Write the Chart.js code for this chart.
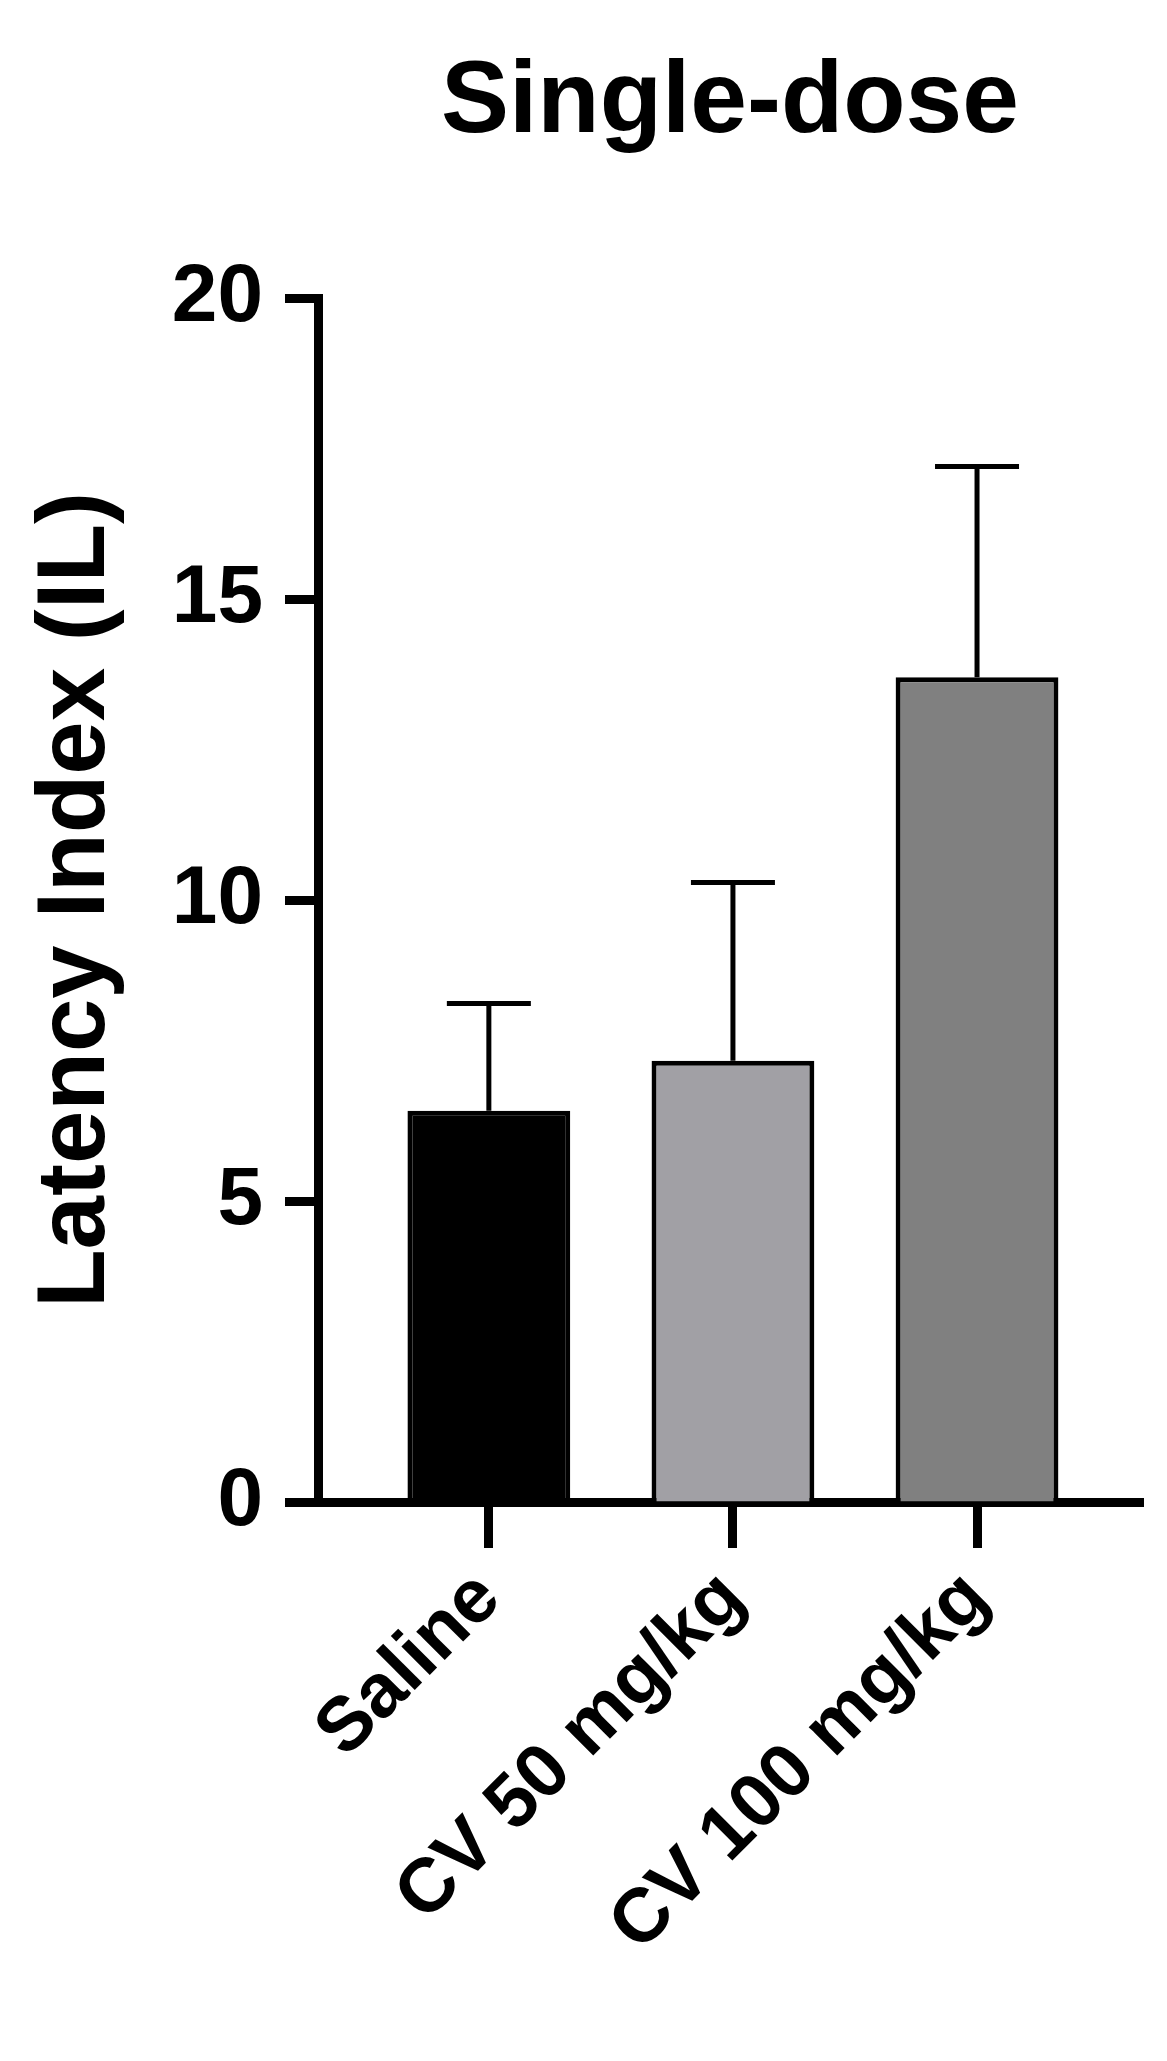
<!DOCTYPE html>
<html>
<head>
<meta charset="utf-8">
<script src="https://cdn.jsdelivr.net/npm/chart.js@4"></script>
<style>
  html, body { margin: 0; padding: 0; background: #fff; }
  #wrap { width: 1167px; height: 2061px; position: relative; }
</style>
</head>
<body>
<div id="wrap"><canvas id="chart"></canvas></div>
<script>
const groups = ['Saline', 'CV 50 mg/kg', 'CV 100 mg/kg'];
const means = [6.5, 7.33, 13.7];
const errorTops = [8.28, 10.29, 17.2];
const barColors = ['#000000', '#a1a0a5', '#808080'];
const yTicks = [0, 5, 10, 15, 20];

const FONT = '"Liberation Sans", Arial, sans-serif';

// upper error bars + title
const extras = {
    id: 'extras',
    afterDatasetsDraw(chart) {
        const ctx = chart.ctx;
        const x = chart.scales.x;
        const y = chart.scales.y;
        ctx.save();
        ctx.strokeStyle = '#000';
        ctx.lineWidth = 5;
        errorTops.forEach((top, i) => {
            const cx = x.getPixelForValue(i);
            const y0 = y.getPixelForValue(means[i]);
            const y1 = y.getPixelForValue(top);
            ctx.beginPath();
            ctx.moveTo(cx, y0);
            ctx.lineTo(cx, y1);
            ctx.moveTo(cx - 42, y1);
            ctx.lineTo(cx + 42, y1);
            ctx.stroke();
        });
        ctx.fillStyle = '#000';
        ctx.font = 'bold 102px ' + FONT;
        ctx.textAlign = 'center';
        ctx.textBaseline = 'middle';
        ctx.fillText('Single-dose', 730, 104);
        ctx.restore();
    }
};

new Chart(document.getElementById('chart'), {
    type: 'bar',
    data: {
        datasets: [{
            data: means.map((v, i) => ({ x: i, y: v })),
            backgroundColor: barColors,
            borderColor: '#000',
            borderWidth: 5,
            categoryPercentage: 1,
            barPercentage: 0.667
        }]
    },
    options: {
        responsive: true,
        maintainAspectRatio: false,
        animation: false,
        layout: { padding: { top: 298, right: 24, left: 20 } },
        plugins: { legend: { display: false }, tooltip: { enabled: false } },
        scales: {
            x: {
                type: 'linear',
                offset: false,
                min: -0.7,
                max: 2.68,
                afterBuildTicks: (scale) => { scale.ticks = groups.map((g, i) => ({ value: i })); },
                afterFit: (scale) => { scale.height = 2061 - 1502; },
                ticks: {
                    callback: (v) => groups[v],
                    autoSkip: false,
                    minRotation: 45,
                    maxRotation: 45,
                    padding: 6,
                    color: '#000',
                    font: { family: FONT, size: 76, weight: 'bold' }
                },
                grid: { offset: false, drawOnChartArea: false, tickLength: 46, tickWidth: 9, color: '#000' },
                border: { width: 9, color: '#000' }
            },
            y: {
                min: 0,
                max: 20,
                afterBuildTicks: (scale) => { scale.ticks = yTicks.map(v => ({ value: v })); },
                afterFit: (scale) => { scale.width = 318 - 20; },
                ticks: {
                    padding: 22,
                    color: '#000',
                    font: { family: FONT, size: 82, weight: 'bold' }
                },
                grid: { drawOnChartArea: false, tickLength: 33, tickWidth: 9, color: '#000' },
                border: { width: 9, color: '#000' },
                title: {
                    display: true,
                    text: 'Latency Index (IL)',
                    color: '#000',
                    padding: 0,
                    font: { family: FONT, size: 96, weight: 'bold' }
                }
            }
        }
    },
    plugins: [extras]
});
</script>
</body>
</html>
